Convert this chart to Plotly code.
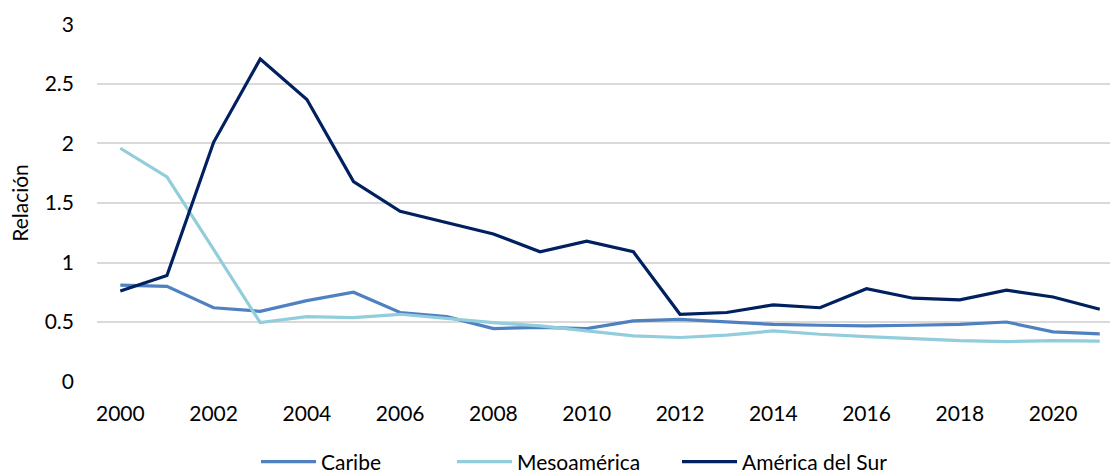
import plotly.graph_objects as go

years = list(range(2000, 2022))
caribe = [0.81, 0.80, 0.62, 0.59, 0.68, 0.75, 0.58, 0.545, 0.445, 0.455, 0.445,
          0.51, 0.523, 0.50, 0.48, 0.473, 0.467, 0.473, 0.48, 0.50, 0.417, 0.40]
mesoamerica = [1.96, 1.72, 1.11, 0.495, 0.545, 0.537, 0.565, 0.53, 0.495, 0.467, 0.425,
               0.383, 0.37, 0.39, 0.425, 0.397, 0.378, 0.36, 0.344, 0.336, 0.344, 0.339]
america_sur = [0.76, 0.89, 2.01, 2.71, 2.37, 1.68, 1.43, 1.335, 1.24, 1.09, 1.18,
               1.09, 0.565, 0.58, 0.644, 0.62, 0.78, 0.70, 0.686, 0.767, 0.71, 0.607]

names = ["Caribe", "Mesoamérica", "América del Sur"]
colors = ["#4f81c0", "#92cddc", "#002060"]
series = [caribe, mesoamerica, america_sur]
legend_ids = ["legend", "legend2", "legend3"]
legend_x_px = [256, 452, 677]

FONT = "Lato, 'Open Sans', sans-serif"
W, H = 1110, 475

fig = go.Figure()
for name, vals, col, lg in zip(names, series, colors, legend_ids):
    fig.add_trace(go.Scatter(x=years, y=vals, name=name, mode="lines", legend=lg,
                             line=dict(color=col, width=3.2)))

legend_common = dict(orientation="h", xref="container", yref="container",
                     xanchor="left", y=1 - 462 / H, yanchor="middle",
                     font=dict(size=21), itemwidth=55, bgcolor="rgba(0,0,0,0)")
layout_legends = {}
for lg, px in zip(legend_ids, legend_x_px):
    layout_legends[lg] = dict(legend_common, x=px / W)

fig.update_layout(
    width=W, height=H,
    margin=dict(l=97, r=0, t=24, b=93, autoexpand=False),
    paper_bgcolor="white", plot_bgcolor="white",
    font=dict(family=FONT, size=21, color="#000000"),
    showlegend=True,
    xaxis=dict(range=[1999.5, 2021.22], tickmode="array",
               tickvals=list(range(2000, 2021, 2)),
               ticktext=[str(y) for y in range(2000, 2021, 2)],
               showgrid=False, zeroline=False, showline=False, automargin=False,
               ticks="", ticklabelstandoff=17),
    yaxis=dict(range=[-0.004, 3.004], tickmode="array",
               tickvals=[0, 0.5, 1, 1.5, 2, 2.5, 3],
               ticktext=["0", "0.5", "1", "1.5", "2", "2.5", "3"],
               showgrid=True, gridcolor="#d9d9d9", gridwidth=1.5, automargin=False,
               zeroline=False, showline=False, ticks="", ticklabelstandoff=22,
               title=dict(text="Relación", standoff=10, font=dict(size=21))),
    **layout_legends,
)

fig.write_html("out.html")
